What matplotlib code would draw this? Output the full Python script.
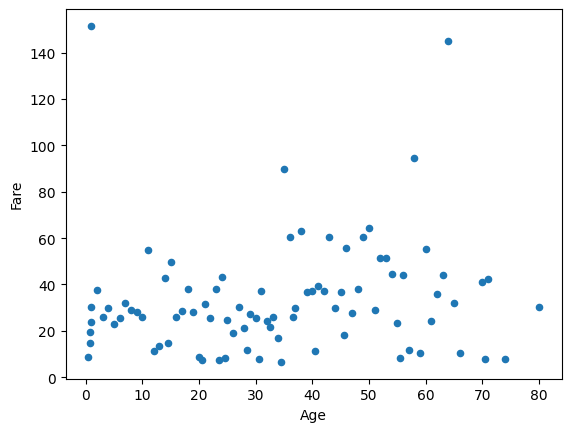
"""Scatter: passenger age vs fare."""
import matplotlib
matplotlib.use('Agg')
import matplotlib.pyplot as plt

age = [0.92, 2.0, 1.0, 0.92, 0.75, 0.75, 0.42, 3.0, 4.0, 5.0,
       6.0, 7.0, 8.0, 9.0, 10.0, 11.0, 12.0, 13.0, 14.5, 14.0,
       15.0, 16.0, 17.0, 18.0, 19.0, 20.0, 20.5, 21.0, 22.0, 23.0,
       24.0, 23.5, 24.5, 25.0, 26.0, 27.0, 28.0, 28.5, 29.0, 30.0,
       30.5, 31.0, 32.0, 32.5, 33.0, 34.0, 34.5, 35.0, 36.0, 36.5,
       37.0, 38.0, 39.0, 40.0, 40.5, 41.0, 42.0, 43.0, 44.0, 45.0,
       45.5, 46.0, 47.0, 48.0, 49.0, 50.0, 51.0, 52.0, 53.0, 54.0,
       55.0, 55.5, 56.0, 57.0, 58.0, 59.0, 60.0, 61.0, 62.0, 63.0,
       64.0, 65.0, 66.0, 70.0, 71.0, 70.5, 74.0, 80.0]
fare = [151.55, 37.7, 30.4, 23.9, 19.6, 14.8, 8.7, 26.1, 29.9, 23.0,
        25.6, 32.1, 28.8, 28.2, 26.1, 54.8, 11.3, 13.5, 14.8, 42.9,
        49.9, 26.1, 28.7, 38.2, 28.2, 8.7, 7.4, 31.7, 25.6, 38.2,
        43.4, 7.4, 8.3, 24.8, 19.1, 30.4, 21.3, 11.8, 27.4, 25.6,
        7.9, 37.3, 24.3, 21.7, 26.1, 17.0, 6.6, 89.7, 60.3, 26.1,
        30.0, 62.9, 36.9, 37.3, 11.3, 39.5, 37.3, 60.3, 30.0, 36.9,
        18.3, 55.9, 27.7, 38.2, 60.3, 64.2, 29.1, 51.6, 51.6, 44.7,
        23.5, 8.3, 44.2, 11.8, 94.5, 10.5, 55.5, 24.3, 36.0, 44.2,
        145.1, 32.1, 10.5, 41.2, 42.5, 7.9, 7.9, 30.4]

fig, ax = plt.subplots(figsize=(6.4, 4.8))
ax.scatter(age, fare, s=20, color='C0')
ax.set_xlabel('Age')
ax.set_ylabel('Fare')

fig.savefig('out.png', dpi=100, bbox_inches='tight')
